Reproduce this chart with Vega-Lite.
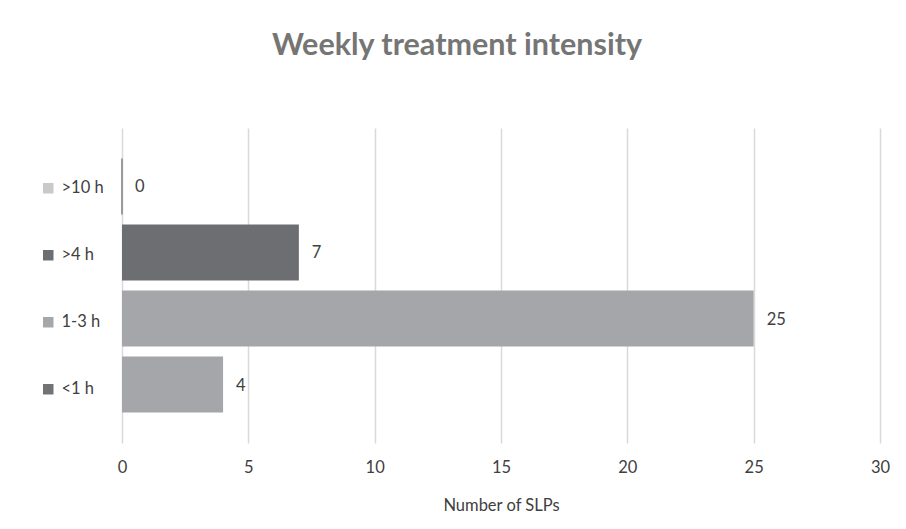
{
  "$schema": "https://vega.github.io/schema/vega-lite/v6.json",
  "width": 758,
  "height": 315,
  "autosize": {"type": "none"},
  "padding": {"left": 122, "top": 128, "right": 26, "bottom": 86},
  "background": "white",
  "config": {"view": {"stroke": null}},
  "title": {
    "text": "Weekly treatment intensity",
    "font": "Lato",
    "fontSize": 30.5,
    "fontWeight": "bold",
    "color": "#757575",
    "anchor": "middle",
    "dx": -44,
    "offset": 67
  },
  "data": {
    "values": [
      {"category": ">10 h", "count": 0},
      {"category": ">4 h", "count": 7},
      {"category": "1-3 h", "count": 25},
      {"category": "<1 h", "count": 4}
    ]
  },
  "encoding": {
    "y": {
      "field": "category",
      "type": "nominal",
      "sort": null,
      "scale": {"paddingInner": 0.15, "paddingOuter": 0.46},
      "axis": null
    }
  },
  "resolve": {"scale": {"color": "independent"}, "legend": {"color": "independent"}},
  "layer": [
    {
      "mark": {"type": "bar", "stroke": "#9a9a9a"},
      "encoding": {
        "x": {
          "field": "count",
          "type": "quantitative",
          "scale": {"domain": [0, 30]},
          "axis": {
            "values": [0, 5, 10, 15, 20, 25, 30],
            "title": "Number of SLPs",
            "grid": true,
            "gridColor": "#d9d9d9",
            "gridWidth": 1.5,
            "domain": false,
            "ticks": false,
            "labelFlush": false,
            "labelFont": "Lato",
            "labelFontSize": 16.5,
            "labelColor": "#404040",
            "labelPadding": 16,
            "titleFont": "Lato",
            "titleFontSize": 16.5,
            "titleFontWeight": "normal",
            "titleColor": "#404040",
            "titlePadding": 22
          }
        },
        "color": {
          "field": "category",
          "type": "nominal",
          "scale": {
            "domain": [">10 h", ">4 h", "1-3 h", "<1 h"],
            "range": ["#9a9a9a", "#6d6e72", "#a5a6aa", "#a5a6aa"]
          },
          "legend": null
        },
        "strokeWidth": {
          "condition": {"test": "datum.count === 0", "value": 2},
          "value": 0
        }
      }
    },
    {
      "mark": {"type": "point", "shape": "square", "filled": true, "size": 0},
      "encoding": {
        "x": {"field": "count", "type": "quantitative"},
        "color": {
          "field": "category",
          "type": "nominal",
          "scale": {
            "domain": [">10 h", ">4 h", "1-3 h", "<1 h"],
            "range": ["#c9c9c9", "#6d6e72", "#a6a7ab", "#737373"]
          },
          "legend": {
            "title": null,
            "orient": "none",
            "legendX": -82,
            "legendY": 52,
            "direction": "vertical",
            "padding": 0,
            "symbolType": "square",
            "symbolSize": 110,
            "symbolStrokeWidth": 0,
            "symbolOpacity": 1,
            "labelFont": "Lato",
            "labelFontSize": 16.5,
            "labelColor": "#404040",
            "labelOffset": 5,
            "rowPadding": 50
          }
        }
      }
    },
    {
      "mark": {"type": "text", "align": "left", "baseline": "middle", "dx": 13, "dy": 1, "font": "Lato", "fontSize": 16.5, "color": "#404040"},
      "encoding": {
        "x": {"field": "count", "type": "quantitative"},
        "text": {"field": "count", "type": "quantitative"}
      }
    }
  ]
}
